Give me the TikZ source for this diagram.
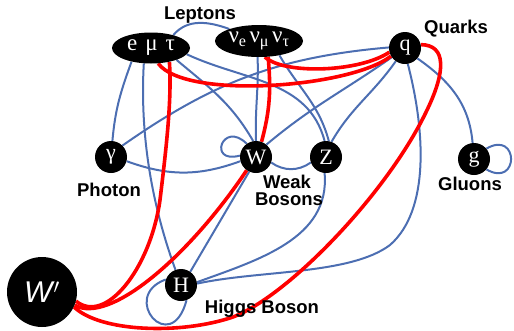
\documentclass[tikz,border=0pt]{standalone}
\usepackage{fontspec}
\setmainfont{Liberation Serif}
\setsansfont{Liberation Sans}
\usetikzlibrary{shapes.geometric,backgrounds}
\definecolor{eb}{RGB}{76,110,178}
\definecolor{er}{RGB}{255,0,0}
\tikzset{
 part/.style={circle, fill=black, minimum size=32pt, inner sep=0pt, text=white, font=\fontsize{22}{22}\selectfont},
 grp/.style={ellipse, fill=black, inner sep=0pt, text=white, font=\fontsize{23}{23}\selectfont},
 lab/.style={font=\sffamily\bfseries\fontsize{18.5}{16}\selectfont, align=center, inner sep=0pt},
 bl/.style={draw=eb, line width=2pt},
 rd/.style={draw=er, line width=3.6pt},
}
\begin{document}
\begin{tikzpicture}[x=1pt,y=1pt]
\useasboundingbox (0,0) rectangle (514,-330);
% nodes
\node[grp, minimum width=78pt, minimum height=31pt] (lep) at (151,-48) {e\hspace{8pt}μ\hspace{8pt}τ};
\node[grp, minimum width=88pt, minimum height=32pt] (neu) at (259,-41) {ν\textsubscript{e}\hspace{3pt}ν\textsubscript{μ}\hspace{3pt}ν\textsubscript{τ}};
\node[part] (q) at (405,-48) {q};
\node[part] (gam) at (111,-157) {γ};
\node[part] (W) at (256,-157) {W};
\node[part] (Z) at (326,-157) {Z};
\node[part] (g) at (474,-159) {g};
\node[part] (H) at (181,-285) {H};
\node[circle, fill=black, minimum size=70pt, inner sep=0pt, text=white] (Wp) at (42,-292) {\fontsize{30}{30}\selectfont\sffamily\itshape W\kern1pt$'$};
% labels
\node[lab] (lLep) at (200,-15) {Leptons};
\node[lab] (lQ) at (456,-29) {Quarks};
\node[lab] (lPh) at (109,-190) {Photon};
\node[lab] (lWk) at (287,-181.5) {Weak};
\node[lab] (lBs) at (289,-199) {Bosons};
\node[lab] (lGl) at (470,-184) {Gluons};
\node[lab] (lH) at (262,-309) {Higgs Boson};
\begin{scope}[on background layer]
% blue edges
\draw[bl] (lep.30) to[out=50,in=160] (neu.158);
\draw[bl] (lep.-145) to[out=-110,in=85] (gam);
\draw[bl] (lep.-115) .. controls (140,-130) and (150,-200) .. (H.110);
\draw[bl] (lep.-25) to[out=-40,in=120] (W.100);
\draw[bl] (lep.-10) to[out=-25,in=105] (Z.95);
\draw[bl] (neu.-95) to[out=-88,in=92] (W.90);
\draw[bl] (neu.-35) to[out=-60,in=105] (Z.80);
\draw[bl] (gam.45) to[out=35,in=185] (q.178);
\draw[bl] (W.50) to[out=40,in=215] (q.-145);
\draw[bl] (Z.70) to[out=60,in=235] (q.-125);
\draw[bl] (q.-80) .. controls (425,-130) and (430,-210) .. (390,-245) .. controls (350,-275) and (260,-270) .. (H.5);
\draw[bl] (q.-40) to[out=-35,in=95] (g);
\draw[bl] (g.40) .. controls +(30:38) and +(-30:38) .. (g.-40);
\draw[bl] (gam.-15) to[out=-20,in=200] (W.-165);
\draw[bl] (W.125) .. controls +(135:34) and +(195:34) .. (W.175);
\draw[bl] (W.-20) to[out=-35,in=215] (Z.-160);
\draw[bl] (W.-115) -- (H.55);
\draw[bl] (Z.-95) to[out=-85,in=20] (H.10);
\draw[bl] (H.160) .. controls +(200:50) and +(255:60) .. (H.-70);
% red edges
\draw[rd] (Wp.-15) .. controls (105,-325) and (150,-270) .. (160,-200) .. controls (166,-150) and (172,-100) .. (lep.-37);
\draw[rd] (Wp.-22) .. controls (110,-325) and (190,-255) .. (W.-125);
\draw[rd] (neu.-60) to[out=-85,in=75] (W.70);
\draw[rd] (lep.-65) .. controls (185,-100) and (350,-88) .. (q.-150);
\draw[rd] (neu.-70) .. controls (285,-75) and (360,-72) .. (q.-165);
\draw[rd] (Wp.-25) .. controls (100,-332) and (180,-335) .. (233,-317) .. controls (290,-295) and (390,-190) .. (428,-108) .. controls (445,-72) and (447,-45) .. (q.12);
\end{scope}
\end{tikzpicture}
\end{document}
